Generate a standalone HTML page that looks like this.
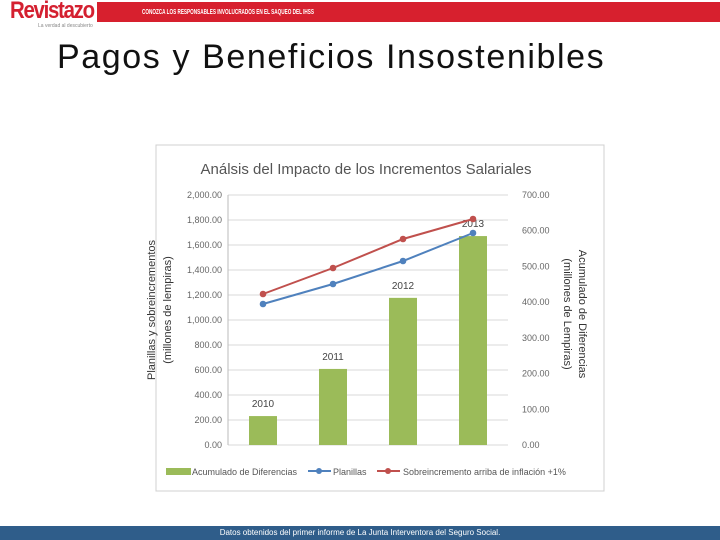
<!DOCTYPE html>
<html><head><meta charset="utf-8"><style>
body{margin:0;width:720px;height:540px;background:#fff;position:relative;overflow:hidden;font-family:"Liberation Sans",sans-serif}
</style></head><body>
<div style="position:absolute;left:10px;top:-3px;font-size:24px;color:#d42030;font-weight:bold;letter-spacing:-1.5px;transform:scaleX(0.85);transform-origin:left top">Revistazo</div>
<div style="position:absolute;left:38px;top:23px;font-size:5px;color:#888">La verdad al descubierto</div>
<div style="position:absolute;left:97px;top:2px;width:623px;height:20px;background:#d7202e;"></div>
<div style="position:absolute;left:142px;top:2px;height:20px;color:#fff;font-size:7.5px;font-weight:bold;line-height:20px;white-space:nowrap;transform:scaleX(0.62);transform-origin:left top">CONOZCA LOS RESPONSABLES INVOLUCRADOS EN EL SAQUEO DEL IHSS</div>
<div style="position:absolute;left:57px;top:38px;font-size:34px;color:#111;letter-spacing:1.6px">Pagos y Beneficios Insostenibles</div>
<div style="position:absolute;left:0;top:526px;width:720px;height:14px;background:#2f5d8a;color:#fff;font-size:8px;text-align:center;line-height:14px">Datos obtenidos del primer informe de La Junta Interventora del Seguro Social.</div>
<svg id="c" width="720" height="540" style="position:absolute;left:0;top:0"></svg>
<script>
const categories=["2010","2011","2012","2013"];
const acumulado=[81,213,412,585];
const planillas=[1128,1288,1472,1696];
const sobre=[1208,1416,1648,1808];
const leftTicks=["0.00","200.00","400.00","600.00","800.00","1,000.00","1,200.00","1,400.00","1,600.00","1,800.00","2,000.00"];
const rightTicks=["0.00","100.00","200.00","300.00","400.00","500.00","600.00","700.00"];
const svg=document.getElementById('c');const NS="http://www.w3.org/2000/svg";
function mk(t,a,txt){const e=document.createElementNS(NS,t);for(const k in a)e.setAttribute(k,a[k]);if(txt!==undefined)e.textContent=txt;svg.appendChild(e);return e;}
const x0=228,x1=508,yB=445,yT=195;
const yL=v=>yB-(v/2000)*(yB-yT), yR=v=>yB-(v/700)*(yB-yT);
const xC=i=>x0+(i+0.5)*(x1-x0)/categories.length;
let e=mk('rect',{x:156,y:145,width:448,height:346,fill:'#fff',stroke:'#d0d0d0'});

e=mk('text',{x:366,y:174,'font-size':15,'text-anchor':'middle',fill:'#555'},'Análsis del Impacto de los Incrementos Salariales');

leftTicks.forEach((t,i)=>{const v=i*200;const y=yL(v);
 e=mk('line',{x1:x0,x2:x1,y1:y,y2:y,stroke:'#d9d9d9'});
 e=mk('text',{x:222,y:y+3,'font-size':9,'text-anchor':'end',fill:'#666'},t);});
rightTicks.forEach((t,i)=>{const y=yR(i*100);
 e=mk('text',{x:522,y:y+3,'font-size':9,fill:'#666'},t);});
e=mk('line',{x1:x0,x2:x0,y1:yT,y2:yB,stroke:'#bbb'});
acumulado.forEach((v,i)=>{const y=yR(v);
 e=mk('rect',{x:xC(i)-14,y:y,width:28,height:yB-y,fill:'#9bbb59'});
 e=mk('text',{x:xC(i),y:y-9,'font-size':10,'text-anchor':'middle',fill:'#444'},categories[i]);});
function series(arr,col,name){
 e=mk('polyline',{points:arr.map((v,i)=>xC(i)+','+yL(v)).join(' '),fill:'none',stroke:col,'stroke-width':2});
 
 arr.forEach((v,i)=>{e=mk('circle',{cx:xC(i),cy:yL(v),r:3.3,fill:col});});}
series(planillas,'#4f81bd','planillas');series(sobre,'#c0504d','sobreincremento');
e=mk('text',{transform:'translate(155,310) rotate(-90)','font-size':11,'text-anchor':'middle',fill:'#333'},'Planillas y sobreincrementos');
e=mk('text',{transform:'translate(171,310) rotate(-90)','font-size':11,'text-anchor':'middle',fill:'#333'},'(millones de lempiras)');
e=mk('text',{transform:'translate(579,314) rotate(90)','font-size':11,'text-anchor':'middle',fill:'#333'},'Acumulado de Diferencias');
e=mk('text',{transform:'translate(564,314) rotate(90)','font-size':11,'text-anchor':'middle',fill:'#333'},'(millones de Lempiras)');
e=mk('rect',{x:166,y:468,width:25,height:7,fill:'#9bbb59'});
e=mk('text',{x:192,y:475,'font-size':9,fill:'#555'},'Acumulado de Diferencias');
e=mk('line',{x1:308,x2:331,y1:471,y2:471,stroke:'#4f81bd','stroke-width':2});
e=mk('circle',{cx:319,cy:471,r:3,fill:'#4f81bd'});
e=mk('text',{x:333,y:475,'font-size':9,fill:'#555'},'Planillas');
e=mk('line',{x1:377,x2:400,y1:471,y2:471,stroke:'#c0504d','stroke-width':2});
e=mk('circle',{cx:388,cy:471,r:3,fill:'#c0504d'});
e=mk('text',{x:403,y:475,'font-size':9,fill:'#555'},'Sobreincremento arriba de inflación +1%');
</script>
</body></html>
